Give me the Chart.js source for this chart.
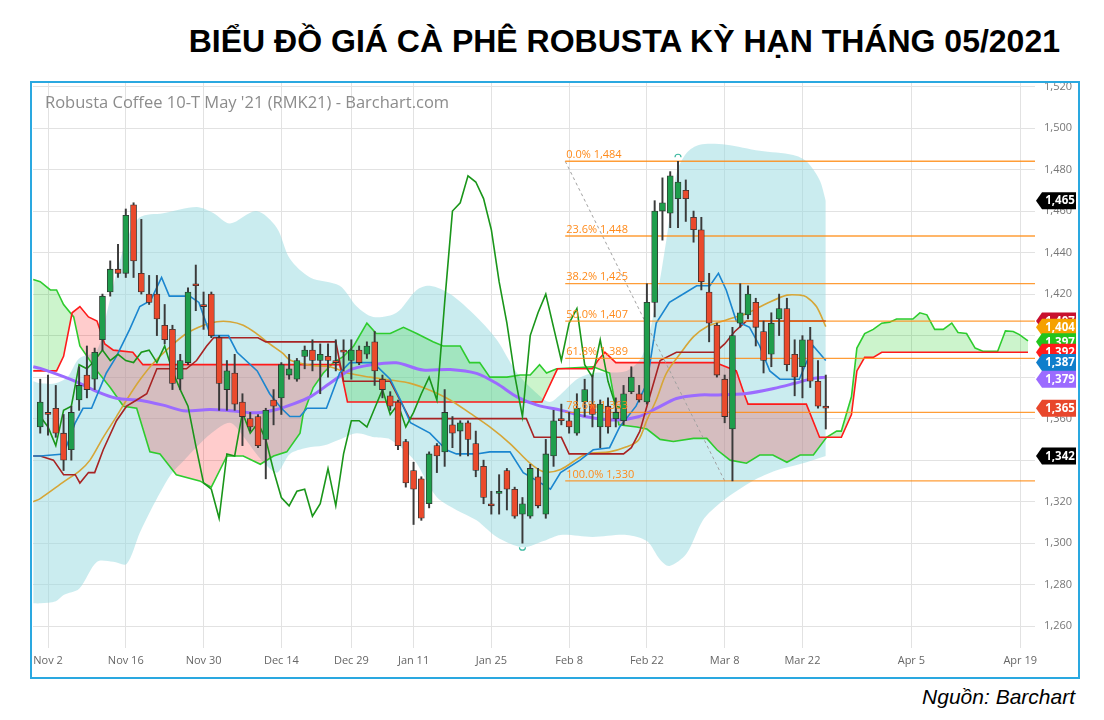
<!DOCTYPE html>
<html>
<head>
<meta charset="utf-8">
<script src="https://cdn.jsdelivr.net/npm/chart.js@4.4.1/dist/chart.umd.min.js"></script>
<style>
body { margin:0; width:1104px; height:720px; background:#fff; position:relative; overflow:hidden; font-family:"Liberation Sans", Arial, sans-serif; }
#title { position:absolute; right:44px; top:25px; font-size:32px; line-height:32px; font-weight:bold; color:#000; white-space:nowrap; }
#frame { position:absolute; left:30px; top:81px; width:1046px; height:594px; border:2px solid #2aa8e0; }
#wrap { position:absolute; left:32px; top:83px; width:1044px; height:592px; }
#src { position:absolute; right:29px; top:685px; font-size:21px; font-style:italic; color:#000; }
</style>
</head>
<body>
<div id="title">BIỂU ĐỒ GIÁ CÀ PHÊ ROBUSTA KỲ HẠN THÁNG 05/2021</div>
<div id="frame"></div>
<div id="wrap"><canvas id="canvas"></canvas></div>
<div id="src">Nguồn: Barchart</div>
<script>
// one slot per trading day, slot 0 = Nov 2
const firstSlot = -1;
const opens  = [1356,1363,1365,1353,1345,1369,1381,1379,1398,1421,1432,1430,1463,1430,1420,1420,1405,1403,1379,1387,1425,1415,1420,1399,1374,1382,1368,1360,1361,1350,1369,1370,1381,1379,1390,1393,1388,1390,1388,1393,1388,1393,1391,1397,1379,1371,1368,1349,1335,1331,1319,1347,1344,1357,1354,1358,1348,1337,1319,1324,1335,1326,1314,1313,1332,1314,1342,1360,1359,1353,1368,1367,1356,1366,1360,1359,1373,1372,1368,1416,1460,1459,1466,1470,1457,1451,1421,1405,1379,1355,1406,1410,1416,1402,1391,1408,1413,1391,1385,1398,1378,1366];
const highs  = [1379,1381,1376,1362,1366,1385,1395,1394,1420,1436,1444,1461,1464,1456,1429,1429,1415,1405,1391,1423,1434,1421,1421,1400,1388,1391,1372,1363,1362,1365,1374,1387,1391,1389,1395,1398,1396,1396,1398,1398,1398,1395,1397,1402,1381,1373,1369,1350,1339,1332,1344,1348,1374,1361,1359,1359,1354,1340,1325,1333,1336,1327,1322,1338,1336,1350,1364,1367,1363,1372,1379,1381,1369,1370,1370,1376,1385,1376,1425,1465,1476,1479,1484,1475,1460,1457,1430,1406,1381,1404,1425,1424,1418,1407,1411,1420,1418,1398,1400,1404,1388,1381];
const lows   = [1353,1352,1351,1335,1340,1364,1370,1374,1393,1419,1428,1428,1428,1420,1415,1400,1396,1374,1374,1386,1412,1403,1399,1364,1364,1364,1347,1354,1346,1331,1357,1362,1379,1378,1384,1383,1372,1380,1383,1383,1379,1386,1389,1376,1370,1364,1345,1327,1309,1311,1317,1334,1337,1346,1342,1342,1332,1319,1314,1314,1316,1312,1300,1312,1317,1312,1337,1357,1353,1352,1361,1356,1346,1353,1356,1357,1372,1368,1367,1409,1446,1452,1452,1455,1445,1422,1397,1380,1358,1330,1404,1408,1395,1382,1385,1400,1383,1371,1370,1375,1365,1355];
const closes = [1368,1362,1353,1340,1363,1376,1374,1392,1419,1432,1430,1458,1436,1421,1416,1408,1398,1377,1388,1421,1424,1414,1400,1377,1383,1367,1361,1356,1347,1364,1366,1386,1384,1388,1393,1388,1391,1388,1387,1392,1393,1387,1395,1383,1374,1366,1347,1329,1326,1312,1343,1342,1363,1353,1358,1350,1335,1322,1318,1325,1326,1313,1319,1336,1318,1343,1359,1359,1356,1365,1374,1362,1367,1356,1363,1372,1380,1369,1416,1460,1464,1477,1474,1466,1451,1426,1406,1381,1361,1400,1411,1420,1404,1388,1406,1413,1386,1380,1398,1378,1366,1365];
const laggingShift = 26;

// [slot, price]
const bbUpper = [[-1.9,1378],[-1,1377],[1,1377],[2.5,1380],[4,1389],[6.3,1393],[7.5,1410],[8.8,1430],[10.1,1446],[11.8,1457],[14.8,1459],[19.1,1462],[21.3,1459],[23.4,1454],[26.8,1460],[29.4,1452],[31.1,1437],[33.7,1428],[37.5,1424],[39.7,1414],[41.8,1409],[44.8,1411],[47.4,1422],[49.1,1424],[51.7,1420],[55.1,1409],[57.7,1398],[60.3,1382],[62.9,1372],[64.5,1368],[66,1372],[68,1379],[70.1,1382],[74.4,1383],[76.5,1391],[78.2,1417],[79.5,1446],[80.8,1478],[82.1,1488],[83.8,1492],[87.2,1492],[91.5,1489],[95.8,1487],[97.5,1484],[99.2,1475],[100,1465]];
const bbLower = [[-1.9,1271],[-1,1271],[1,1272],[2,1275],[4,1278],[6.3,1291],[8.4,1291],[10.1,1290],[11.8,1305],[13.5,1318],[14.8,1327],[16,1334],[17.5,1340],[19,1346],[21,1353],[23.4,1358],[25,1352],[26.8,1343],[28.5,1336],[29.5,1334],[31.1,1343],[33.3,1346],[35.4,1347],[37.5,1350],[39.7,1353],[42,1351],[44,1350],[47.1,1340],[49.1,1327],[50.3,1321],[52.5,1316],[55.1,1311],[57.7,1303],[61.1,1298],[63.7,1301],[65.9,1304],[70,1303],[74.4,1304],[77,1301],[78.7,1292],[79.9,1289],[82.1,1295],[84.2,1311],[86,1318],[88.1,1324],[90.6,1330],[93.6,1335],[96.6,1338],[100,1342]];
const tenkan = [[-1.9,1342],[-1,1342],[2,1343],[3.5,1358],[4.5,1365],[5.6,1365],[7.5,1382],[8.8,1390],[10.5,1403],[11.8,1414],[13.2,1417],[14.6,1428],[15.6,1419],[18.2,1419],[19.4,1416],[20.9,1400],[23.2,1400],[24.3,1392],[26.9,1383],[28.5,1372],[30,1365],[31.1,1361],[32.4,1361],[33.3,1365],[35.8,1365],[37.5,1382],[38.8,1387],[41.8,1387],[44,1379],[45.3,1369],[46.6,1358],[49.1,1353],[51.2,1345],[52.5,1343],[55.1,1343],[56.8,1344],[59.4,1344],[61.1,1334],[62.9,1330],[64.6,1326],[65.9,1334],[68.4,1340],[70.1,1345],[72.2,1346],[73.5,1356],[75.6,1366],[77,1377],[78.2,1406],[79.9,1416],[82.1,1421],[83.4,1424],[85.1,1424],[86.2,1430],[87.2,1422],[88.5,1407],[90.2,1404],[91.5,1395],[92.8,1383],[94.1,1379],[96.6,1379],[98.4,1395],[100,1388]];
const kijun = [[-1.9,1342],[-1,1342],[0.7,1340],[2,1333],[3.5,1333],[4.1,1329],[5.2,1334],[6,1334],[7.1,1345],[8.8,1359],[10.1,1366],[11.4,1369],[12.7,1372],[14,1384],[17.8,1384],[19.1,1388],[20.4,1395],[21.3,1399],[27,1399],[28,1397],[37,1397],[38,1378],[44,1378],[46.5,1360],[61.5,1360],[62.5,1351],[66,1351],[67,1343],[74,1343],[75,1346],[76.1,1354],[77,1366],[78.7,1388],[80.8,1392],[85.8,1392],[87,1396],[88.3,1402],[89.8,1407],[100,1407]];
const spanA = [[-1.9,1427],[-1,1426],[0.3,1422],[1.1,1422],[2,1415],[3.3,1409],[4.1,1395],[6.3,1383],[8,1375],[9.7,1366],[11.4,1365],[13.1,1344],[14.4,1343],[16.5,1333],[19.5,1330],[21,1327],[23,1342],[25.1,1342],[27.3,1338],[29,1342],[30.7,1344],[32.4,1353],[32.8,1362],[34.1,1375],[35.4,1382],[36.7,1387],[38,1390],[39.3,1395],[41,1406],[42.2,1401],[44,1401],[45.7,1404],[47.4,1401],[49.5,1397],[50.8,1395],[53,1395],[54.2,1387],[55.5,1387],[56.8,1380],[59,1380],[60.7,1381],[62,1381],[63.2,1386],[64.1,1382],[65.4,1384],[70.1,1385],[72.2,1382],[73.4,1357],[75.7,1356],[77,1355],[78.7,1350],[80.4,1349],[83,1350.5],[84.7,1350.5],[86,1345],[87.7,1340],[89.8,1338.5],[91.5,1342.5],[93.2,1342.5],[95,1339],[96.7,1342.5],[98.4,1342.5],[100.1,1351],[101.4,1354],[102,1354],[103.3,1370.5],[104,1394],[105,1401],[106.1,1403],[107.2,1406],[108.2,1406.5],[109.1,1408],[111.2,1408],[112.1,1411],[113,1410],[114,1403],[115.1,1403],[116.2,1406],[117,1401.5],[118.1,1401],[119.2,1394],[120.2,1392.5],[122.1,1392.5],[123.1,1402.3],[124.1,1402],[124.9,1400.5],[126,1397.5]];
const spanB = [[-1.9,1383],[1.1,1383],[2,1390],[3.1,1411],[4.1,1414],[5.2,1409],[6.3,1407],[7.3,1396],[8.4,1393],[10.9,1392],[12.2,1386],[37.5,1386],[38.5,1368],[63.5,1368],[65.5,1384],[70,1384],[70.7,1388],[71.6,1392],[73,1387],[85.8,1387],[88.5,1383],[89.5,1372],[90,1367],[97.5,1367],[99.2,1351],[102,1351],[103.3,1362],[104,1383],[105,1389.5],[106.1,1389.5],[107.2,1392],[126,1392]];
const maGold = [[-1.9,1320],[-1,1321.5],[2,1329.5],[4.1,1335],[5.4,1340],[7.1,1351],[8.8,1361],[10.1,1369],[11.8,1378.6],[13.5,1386.6],[15.7,1394.6],[17.8,1401],[20,1405],[21.7,1406.7],[23.4,1406.7],[25.1,1405],[26.8,1401],[28.5,1396],[30.2,1391.4],[31.1,1388.2],[33.7,1385.7],[36.2,1385],[38.8,1381.7],[41.4,1380],[44,1378.6],[46.6,1377],[49.1,1373.7],[51.7,1369],[54.3,1362.5],[56.8,1356],[59.4,1348],[62,1338.4],[63.7,1334.4],[65.9,1335.5],[69.2,1343],[72.2,1344],[74.4,1346.4],[75.9,1349.6],[77,1359.3],[78.2,1369],[79.5,1381.8],[81.3,1391.4],[83,1399.5],[84.7,1404.3],[87.2,1407.5],[89.8,1410.7],[92.4,1415.5],[95,1419.5],[96.7,1419.5],[97.5,1418.7],[98.8,1414],[100,1404.3]];
const maPurple = [[-1.9,1385],[-1,1384.2],[2,1380.2],[4.1,1377],[6.3,1373],[8.8,1369.8],[11.8,1368.9],[14.8,1366.5],[17.4,1363.8],[20.8,1364.4],[23.4,1363.8],[26.8,1362.8],[29.4,1364.4],[31.1,1366.5],[33.7,1370.5],[36.2,1376.9],[38.8,1383.4],[41.4,1385.8],[44.8,1386.9],[48.2,1383.4],[51.7,1383.7],[55.1,1381.8],[57.7,1376.9],[60.3,1370.5],[62.9,1366.5],[65.9,1364.1],[69.2,1360.9],[73,1359.3],[75.9,1360.9],[78.2,1364.9],[80.8,1369.7],[83.8,1371.4],[86.2,1371.4],[89.8,1372.1],[93.3,1374.5],[95.9,1376.9],[98.4,1379.4],[100,1380]];

const fibStart = 66.5;
const fibEndSlot = 87;
const fibPct = ['0.0%','23.6%','38.2%','50.0%','61.8%','78.6%','100.0%'];
const fibLevels = [1484,1448,1425,1407,1389,1363,1330];

const dateSlots = [0,10,20,30,39,47,57,67,77,87,97,111,125];
const dateLabels = ['Nov 2','Nov 16','Nov 30','Dec 14','Dec 29','Jan 11','Jan 25','Feb 8','Feb 22','Mar 8','Mar 22','Apr 5','Apr 19'];
const yTicks = [1260,1280,1300,1320,1340,1360,1380,1400,1420,1440,1460,1480,1500,1520];

const tagValues = [1465,1407,1404,1397,1392,1387,1379,1365,1342];
const tagColors = ['#000000','#c8102e','#f5a100','#22c41c','#ff1a1a','#0f7ecb','#9b6bff','#e8472c','#000000'];

const chartName = "Robusta Coffee 10-T May '21 (RMK21) - Barchart.com";
const xMin = -1.93, xMax = 126.9, yMin = 1249.5, yMax = 1521.7;

function pts(arr) { return arr.map(p => ({x: p[0], y: p[1]})); }
function fmt(v) { return v.toLocaleString('en-US'); }

const upColor = '#1f9e4c', downColor = '#ea4a2c';
let bodies = [], wicks = [], bodyColors = [];
for (let j = 0; j < closes.length; j++) {
    let s = firstSlot + j;
    bodies.push({x: s, y: [opens[j], closes[j]]});
    wicks.push({x: s, y: [lows[j], highs[j]]});
    bodyColors.push(closes[j] >= opens[j] ? upColor : downColor);
}
let lagging = closes.slice(laggingShift).map((c, k) => ({x: firstSlot + k, y: c}));

function line(data, color, width, order, extra) {
    return Object.assign({type:'line', data: pts(data), borderColor: color, borderWidth: width,
        pointRadius: 0, tension: 0, fill: false, order: order}, extra || {});
}

let datasets = [
    // bollinger band (fill only)
    line(bbUpper, 'rgba(0,0,0,0)', 0, 100, {tension: 0.3, fill: {target: '+1', above: 'rgba(150,218,224,0.5)', below: 'rgba(150,218,224,0.5)'}}),
    line(bbLower, 'rgba(0,0,0,0)', 0, 99, {tension: 0.3}),
    // ichimoku cloud
    line(spanA, '#2ecc2e', 1.6, 50, {fill: {target: '+1', above: 'rgba(0,200,0,0.2)', below: 'rgba(255,0,0,0.2)'}}),
    line(spanB, '#ff1a1a', 1.6, 49),
    line(maGold, '#d6a637', 1.6, 40, {tension: 0.3}),
    line(maPurple, '#9b6bff', 3, 39, {tension: 0.3}),
    line(kijun, '#a82323', 1.6, 38),
    line(tenkan, '#1b86cf', 1.6, 37),
    {type:'line', data: lagging, borderColor:'#1a961a', borderWidth:1.6, pointRadius:0, tension:0, fill:false, order:36},
    {type:'line', data: [{x: fibStart, y: fibLevels[0]}, {x: fibEndSlot, y: fibLevels[fibLevels.length-1]}],
        borderColor:'#a0a0a0', borderWidth:1, borderDash:[3,3], pointRadius:0, fill:false, order:30}
];
fibLevels.forEach(lv => {
    datasets.push({type:'line', data:[{x: fibStart, y: lv}, {x: xMax, y: lv}], borderColor:'rgba(255,140,20,0.85)',
        borderWidth:1.3, pointRadius:0, fill:false, order:20});
});
datasets.push({type:'bar', data: wicks, backgroundColor:'#3a3a3a', barThickness:1.3, grouped:false, order:2});
datasets.push({type:'bar', data: bodies, backgroundColor: bodyColors, borderColor:'#303030', borderWidth:0.8,
    borderSkipped:false, barThickness:6, minBarLength:2, grouped:false, order:1});

const overlay = {
    id: 'overlay',
    beforeDatasetsDraw(chart) {
        const ctx = chart.ctx, a = chart.chartArea;
        ctx.save();
        ctx.font = '16.5px "Open Sans"';
        ctx.fillStyle = '#8c8c8c';
        ctx.textBaseline = 'middle';
        ctx.fillText(chartName, a.left + 12, a.top + 20);
        ctx.restore();
    },
    afterDatasetsDraw(chart) {
        const ctx = chart.ctx, x = chart.scales.x, y = chart.scales.y;
        ctx.save();
        ctx.font = '11px "Open Sans"';
        ctx.fillStyle = '#ff8a1a';
        ctx.textBaseline = 'bottom';
        fibLevels.forEach((lv, i) => {
            ctx.fillText(fibPct[i] + ' ' + fmt(lv), x.getPixelForValue(fibStart) + 1, y.getPixelForValue(lv) - 1);
        });
        // high / low markers
        let hi = highs.indexOf(Math.max(...highs)), lo = lows.indexOf(Math.min(...lows));
        ctx.strokeStyle = '#3cb8a0';
        ctx.lineWidth = 1.2;
        ctx.beginPath();
        ctx.arc(x.getPixelForValue(firstSlot + hi), y.getPixelForValue(highs[hi]) - 4, 3, Math.PI, 2 * Math.PI);
        ctx.stroke();
        ctx.beginPath();
        ctx.arc(x.getPixelForValue(firstSlot + lo), y.getPixelForValue(lows[lo]) + 4, 3, 0, Math.PI);
        ctx.stroke();
        ctx.restore();
    },
    afterDraw(chart) {
        const ctx = chart.ctx, y = chart.scales.y, x0 = chart.chartArea.right + 1;
        ctx.save();
        tagValues.forEach((v, i) => {
            let yy = y.getPixelForValue(v);
            ctx.fillStyle = tagColors[i];
            ctx.beginPath();
            ctx.moveTo(x0, yy);
            ctx.lineTo(x0 + 6, yy - 8.5);
            ctx.lineTo(x0 + 41, yy - 8.5);
            ctx.lineTo(x0 + 41, yy + 8.5);
            ctx.lineTo(x0 + 6, yy + 8.5);
            ctx.closePath();
            ctx.fill();
            ctx.fillStyle = '#fff';
            ctx.font = 'bold 11.5px "Open Sans"';
            ctx.textAlign = 'center';
            ctx.textBaseline = 'middle';
            ctx.fillText(fmt(v), x0 + 24, yy + 0.5);
        });
        ctx.restore();
    }
};

let ctx = document.getElementById('canvas').getContext('2d');
window.myChart = new Chart(ctx, {
    type: 'line',
    data: { datasets: datasets },
    options: {
        responsive: true,
        maintainAspectRatio: false,
        animation: false,
        layout: { padding: { left: 1, top: 0, right: 0, bottom: 0 } },
        plugins: { legend: { display: false }, tooltip: { enabled: false } },
        scales: {
            x: {
                type: 'linear', min: xMin, max: xMax, offset: false,
                afterBuildTicks: s => { s.ticks = dateSlots.map(v => ({value: v})); },
                afterFit: s => { s.height = 27; s.paddingLeft = 0; s.paddingRight = 0; },
                ticks: { autoSkip: false, maxRotation: 0, padding: 6, color: '#666',
                    font: { family: '"Open Sans"', size: 11 },
                    callback: (v, i) => dateLabels[i] },
                grid: { color: '#e2e2e2', drawTicks: false, offset: false },
                border: { display: false }
            },
            y: {
                position: 'right', min: yMin, max: yMax,
                afterBuildTicks: s => { s.ticks = yTicks.map(v => ({value: v})); },
                afterFit: s => { s.width = 41; s.paddingTop = 0; s.paddingBottom = 0; },
                ticks: { padding: 9, color: '#777', font: { family: '"Open Sans"', size: 11 },
                    callback: v => fmt(v) },
                grid: { color: '#e2e2e2', drawTicks: false },
                border: { display: false }
            }
        }
    },
    plugins: [overlay]
});
</script>
</body>
</html>
